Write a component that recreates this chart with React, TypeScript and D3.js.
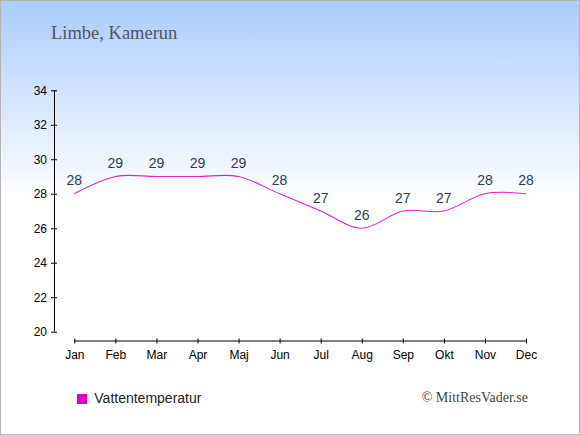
import React, { useEffect, useRef } from 'react';
import { select, scalePoint, scaleLinear, axisLeft, axisBottom, line, curveCardinal } from 'd3';

const months = ['Jan', 'Feb', 'Mar', 'Apr', 'Maj', 'Jun', 'Jul', 'Aug', 'Sep', 'Okt', 'Nov', 'Dec'];
const waterTemp = [28, 29, 29, 29, 29, 28, 27, 26, 27, 27, 28, 28];
const yTicks = [20, 22, 24, 26, 28, 30, 32, 34];
const title = 'Limbe, Kamerun';
const seriesName = 'Vattentemperatur';
const credit = '© MittResVader.se';

const W = 580;
const H = 435;

const App: React.FC = () => {
  const svgRef = useRef<SVGSVGElement>(null);

  useEffect(() => {
    const svg = select(svgRef.current);
    svg.selectAll('*').remove();

    const x = scalePoint<string>().domain(months).range([74.3, 526]);
    const y = scaleLinear().domain([20, 34]).range([331.7, 90.3]);

    const defs = svg.append('defs');
    const grad = defs
      .append('linearGradient')
      .attr('id', 'bg')
      .attr('x1', 0)
      .attr('y1', 0)
      .attr('x2', 0)
      .attr('y2', 1);
    grad.append('stop').attr('offset', 0).attr('stop-color', '#aaccff');
    grad.append('stop').attr('offset', 0.46).attr('stop-color', '#ffffff');
    grad.append('stop').attr('offset', 1).attr('stop-color', '#ffffff');

    svg
      .append('rect')
      .attr('x', 0.5)
      .attr('y', 0.5)
      .attr('width', W - 1)
      .attr('height', H - 1)
      .attr('fill', 'url(#bg)')
      .attr('stroke', '#b4b4b4');

    svg
      .append('text')
      .attr('x', 51)
      .attr('y', 38.7)
      .attr('font-family', '"Liberation Serif", serif')
      .attr('font-size', 18.5)
      .attr('fill', '#555555')
      .text(title);

    // y axis
    const yAxis = axisLeft(y).tickValues(yTicks).tickSize(0).tickPadding(7.5);
    const gy = svg
      .append('g')
      .attr('transform', 'translate(54.5,0)')
      .call(yAxis);
    gy.select('.domain').attr('d', `M0,${y(20)}V${y(34)}`).attr('stroke', '#000');
    gy.selectAll('.tick')
      .append('line')
      .attr('x1', -3.5)
      .attr('x2', 2.5)
      .attr('stroke', '#000');
    gy.selectAll('text')
      .attr('font-family', '"Liberation Sans", Arial, sans-serif')
      .attr('font-size', 12)
      .attr('fill', '#000');

    // x axis
    const xAxis = axisBottom(x).tickSize(0).tickPadding(9);
    const gx = svg
      .append('g')
      .attr('transform', 'translate(0,341)')
      .call(xAxis);
    gx.select('.domain').attr('d', `M${x('Jan')},0H${x('Dec')}`).attr('stroke', '#000');
    gx.selectAll('.tick')
      .append('line')
      .attr('y1', -2.5)
      .attr('y2', 2.5)
      .attr('stroke', '#000');
    gx.selectAll('text')
      .attr('font-family', '"Liberation Sans", Arial, sans-serif')
      .attr('font-size', 12)
      .attr('fill', '#000');

    // line
    const path = line<number>()
      .x((_d, i) => x(months[i]) ?? 0)
      .y(d => y(d))
      .curve(curveCardinal);
    svg
      .append('path')
      .datum(waterTemp)
      .attr('d', path)
      .attr('fill', 'none')
      .attr('stroke', '#dd22cc')
      .attr('stroke-width', 1.1);

    // value labels
    svg
      .append('g')
      .selectAll('text')
      .data(waterTemp)
      .join('text')
      .attr('x', (_d, i) => x(months[i]) ?? 0)
      .attr('y', d => y(d) - 8.5)
      .attr('text-anchor', 'middle')
      .attr('font-family', '"Liberation Sans", Arial, sans-serif')
      .attr('font-size', 14)
      .attr('fill', '#2b3a5c')
      .text(d => String(d));

    // legend
    svg
      .append('rect')
      .attr('x', 77)
      .attr('y', 394)
      .attr('width', 10)
      .attr('height', 10)
      .attr('fill', '#dd00cc');
    svg
      .append('text')
      .attr('x', 94.3)
      .attr('y', 403.3)
      .attr('font-family', '"Liberation Sans", Arial, sans-serif')
      .attr('font-size', 14)
      .attr('fill', '#222222')
      .text(seriesName);

    svg
      .append('text')
      .attr('x', 528)
      .attr('y', 402.3)
      .attr('text-anchor', 'end')
      .attr('font-family', '"Liberation Serif", serif')
      .attr('font-size', 14)
      .attr('fill', '#444444')
      .text(credit);
  }, []);

  return (
    <svg
      ref={svgRef}
      width={W}
      height={H}
      style={{ position: 'absolute', left: 0, top: 0, display: 'block' }}
    />
  );
};

export default App;
